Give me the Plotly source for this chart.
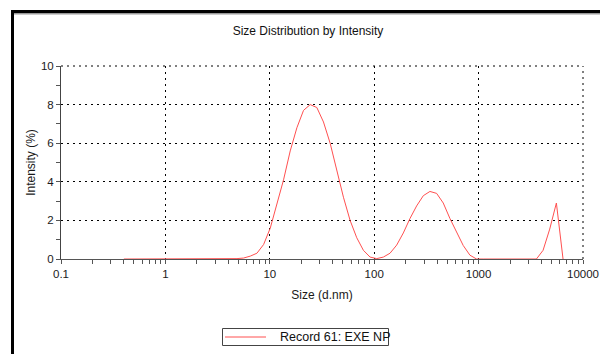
import plotly.graph_objects as go

# Size bins (d.nm) and intensity (%)
sizes = [0.4, 0.4632, 0.5365, 0.6213, 0.7195, 0.8332, 0.9649, 1.117, 1.294, 1.499,
         1.736, 2.01, 2.328, 2.696, 3.122, 3.615, 4.187, 4.849, 5.615, 6.503,
         7.531, 8.721, 10.1, 11.7, 13.54, 15.69, 18.17, 21.04, 24.36, 28.21,
         32.67, 37.84, 43.82, 50.75, 58.77, 68.06, 78.82, 91.28, 105.7, 122.4,
         141.8, 164.2, 190.1, 220.2, 255.0, 295.3, 342.0, 396.1, 458.7, 531.2,
         615.1, 712.4, 825.0, 955.4, 1106, 1281, 1484, 1718, 1990, 2305,
         2669, 3091, 3580, 4145, 4801, 5560, 6439]
intensity = [0, 0, 0, 0, 0, 0, 0, 0, 0, 0,
             0, 0, 0, 0, 0, 0, 0, 0.02, 0.05, 0.15,
             0.3, 0.75, 1.6, 2.8, 4.1, 5.6, 6.8, 7.7, 8.0, 7.85,
             7.1, 6.0, 4.6, 3.2, 2.0, 1.1, 0.45, 0.1, 0.02, 0.1,
             0.3, 0.72, 1.35, 2.1, 2.75, 3.28, 3.5, 3.4, 2.9, 2.1,
             1.4, 0.7, 0.2, 0.0, 0, 0, 0, 0, 0, 0,
             0, 0, 0, 0.45, 1.55, 2.9, 0]

x_tickvals = [0.1, 1, 10, 100, 1000, 10000]
x_ticktext = ["0.1", "1", "10", "100", "1000", "10000"]
y_tickvals = [0, 2, 4, 6, 8, 10]

series_name = "Record 61: EXE NP"
title_text = "Size Distribution by Intensity"
x_title = "Size (d.nm)"
y_title = "Intensity (%)"

FONT = "Liberation Sans, Arial, sans-serif"
DOT = "2px,4px"
LINE_COLOR = "#ff5050"

fig = go.Figure()
fig.add_trace(go.Scatter(x=sizes, y=intensity, mode="lines",
                         line=dict(color=LINE_COLOR, width=1),
                         name=series_name, showlegend=False))

L, R, T, B = 61, 17, 66, 95
W, H = 600, 354
pw, ph = W - L - R, H - T - B

def px2x(px):
    return (px - L) / pw

def py2y(py):
    return (H - B - py) / ph

fig.update_layout(
    width=W, height=H,
    margin=dict(l=L, r=R, t=T, b=B, pad=0, autoexpand=False),
    paper_bgcolor="white", plot_bgcolor="white",
    font=dict(family=FONT, size=11.5, color="#1a1a1a"),
    showlegend=False,
    xaxis=dict(type="log", range=[-1, 4], tickvals=x_tickvals, ticktext=x_ticktext,
               showgrid=True, gridcolor="black", gridwidth=1, griddash=DOT,
               showline=True, linecolor="#555", linewidth=1,
               ticks="outside", ticklen=4, tickcolor="#555",
               minor=dict(ticks="outside", ticklen=4, tickcolor="#555", dtick="D1", showgrid=False),
               zeroline=False, fixedrange=True, automargin=False,
               title=dict(text=x_title, standoff=11, font=dict(size=12))),
    yaxis=dict(range=[0, 10], tickvals=y_tickvals,
               showgrid=True, gridcolor="black", gridwidth=1, griddash=DOT,
               showline=True, linecolor="#444", linewidth=1,
               ticks="outside", ticklen=4, tickcolor="#555",
               minor=dict(ticks="outside", ticklen=4, tickcolor="#555", dtick=1, showgrid=False),
               zeroline=False, fixedrange=True, automargin=False,
               title=dict(text=y_title, standoff=2, font=dict(size=12))),
    title=dict(text=title_text, x=px2x(308), xref="paper", xanchor="center",
               y=1 - 31 / H, yanchor="middle", font=dict(size=12, color="#111")),
    shapes=[
        # dotted grid lines on the top and right edges
        dict(type="line", xref="paper", yref="paper", x0=0, x1=1, y0=1, y1=1,
             line=dict(color="black", width=1, dash=DOT)),
        dict(type="line", xref="paper", yref="paper", x0=1, x1=1, y0=0, y1=1,
             line=dict(color="black", width=1, dash=DOT)),
        # frame
        dict(type="line", xref="paper", yref="paper",
             x0=px2x(12.5), x1=px2x(600), y0=py2y(13.5), y1=py2y(13.5),
             line=dict(color="#999", width=2)),
        dict(type="line", xref="paper", yref="paper",
             x0=px2x(11), x1=px2x(600), y0=py2y(11.5), y1=py2y(11.5),
             line=dict(color="black", width=3)),
        dict(type="line", xref="paper", yref="paper",
             x0=px2x(12.5), x1=px2x(12.5), y0=py2y(10), y1=py2y(354),
             line=dict(color="black", width=3)),
        # legend box
        dict(type="rect", xref="paper", yref="paper",
             x0=px2x(222.5), x1=px2x(388.5), y0=py2y(328.5), y1=py2y(345.5),
             line=dict(color="#444", width=1), fillcolor="white"),
        dict(type="line", xref="paper", yref="paper",
             x0=px2x(225), x1=px2x(266), y0=py2y(337), y1=py2y(337),
             line=dict(color=LINE_COLOR, width=1)),
    ],
    annotations=[
        dict(text=series_name, xref="paper", yref="paper",
             x=px2x(278), y=py2y(337), xanchor="left", yanchor="middle",
             showarrow=False, font=dict(size=12.5, color="#111")),
    ],
)

fig.write_html("out.html")
